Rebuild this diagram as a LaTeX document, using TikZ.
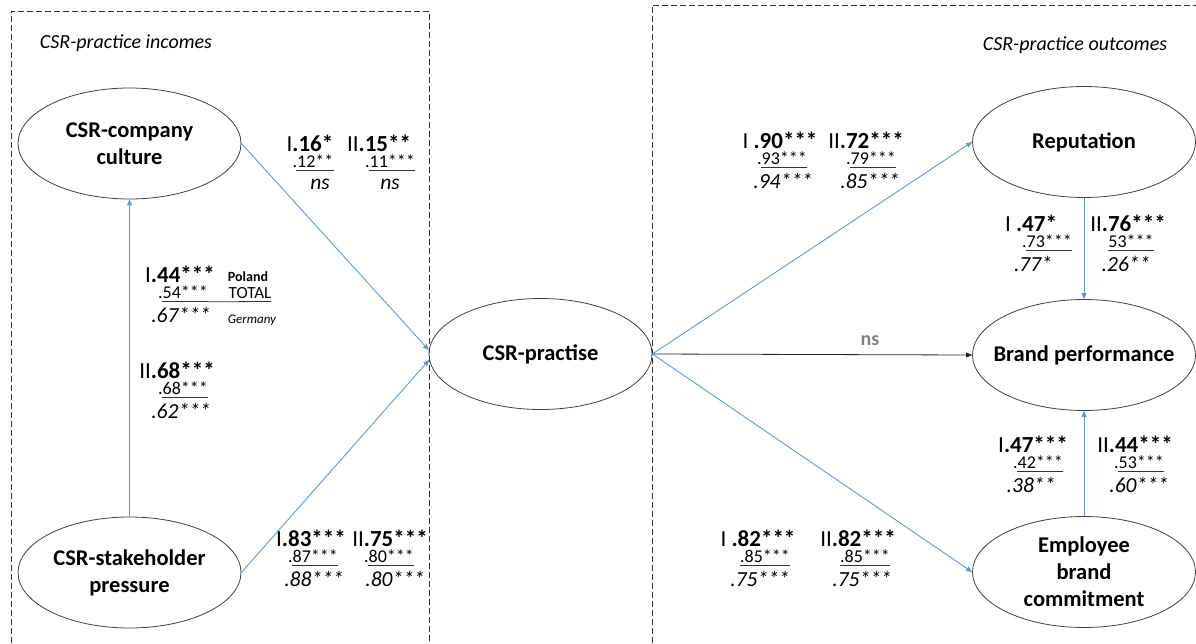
\documentclass[tikz,border=0pt]{standalone}
\usepackage{fontspec}
\setmainfont{Carlito}
\usetikzlibrary{shapes.geometric,arrows.meta}
\definecolor{pathblue}{RGB}{91,155,213}
\definecolor{nsgray}{RGB}{128,128,128}
\tikzset{
  construct/.style={ellipse, draw=black!75, line width=0.8pt, minimum width=223pt, minimum height=111pt,
    inner sep=-80pt, align=center, font=\fontsize{22.5}{27}\selectfont\bfseries},
  bluearrow/.style={draw=pathblue, line width=0.9pt, -{Triangle[length=6pt,width=5pt]}},
  blackarrow/.style={draw=black!85, line width=0.8pt, -{Triangle[length=6pt,width=5pt]}},
  frame/.style={draw=black!80, dash pattern=on 6pt off 3pt, line width=0.9pt},
  sA/.style={inner sep=0pt, font=\fontsize{23}{26}\selectfont\bfseries},
  sB/.style={inner sep=0pt, font=\fontsize{18}{20}\selectfont},
  sC/.style={inner sep=0pt, font=\fontsize{21.5}{24}\selectfont\itshape},
  ul/.style={draw=black!80, line width=0.8pt},
  heading/.style={inner sep=0pt, font=\fontsize{20}{23}\selectfont\itshape},
}
\newcommand\statblock[9]{%
  \node[sA] (#1a) at (#2,#3) {#4};
  \node[sB] (#1b) at (#5,#3+18.5) {#6};
  \node[sC] (#1c) at (#7,#3+41) {#8};
  \draw[ul] ([shift={(#9,3)}]#1b.base west) -- ([shift={(0,3)}]#1b.base east);
}
\begin{document}
\begin{tikzpicture}[x=1pt,y=-1pt]
\useasboundingbox (0,0) rectangle (1196,643);

% frames
\draw[frame] (11,643) -- (11,11) -- (429,11) -- (429,643);
\draw[frame] (652,643) -- (652,5) -- (1200,5);
\node[heading] (hin) at (126,43) {CSR-practice incomes};
\node[heading] (hout) at (1075,45) {CSR-practice outcomes};

% constructs
\node[construct] (culture) at (129.5,143.5) {CSR-company\\culture};
\node[construct] (stake) at (129.5,572.5) {CSR-stakeholder\\pressure};
\node[construct] (practise) at (540.5,354) {CSR-practise};
\node[construct] (rep) at (1084,142) {Reputation};
\node[construct] (brand) at (1084,355) {Brand performance};
\node[construct] (emp) at (1084,572) {Employee\\brand\\commitment};

% paths
\draw[bluearrow] (stake.north) -- (culture.south);
\draw[bluearrow] (culture.east) -- (practise.178);
\draw[bluearrow] (stake.east) -- (practise.183);
\draw[bluearrow] (practise.east) -- (rep.west);
\draw[blackarrow] (practise.east) -- (brand.west);
\draw[bluearrow] (practise.east) -- (emp.west);
\draw[bluearrow] (rep.south) -- (brand.north);
\draw[bluearrow] (emp.north) -- (brand.south);

\node[inner sep=0pt, text=nsgray, font=\fontsize{20}{24}\selectfont\bfseries] (ns) at (870,341) {ns};

% coefficients
\statblock{a}{310}{143}{{\mdseries I}.16*}{313}{.12**}{320}{ns}{4}
\statblock{b}{379}{143}{{\mdseries II}.15**}{390}{.11***}{390}{ns}{4}
\statblock{c}{180}{274}{{\mdseries I}.44***}{183}{.54***}{181}{.67***}{4}
\node[inner sep=0pt, font=\fontsize{14}{16}\selectfont\bfseries] (poland) at (248,277) {Poland};
\node[inner sep=0pt, font=\fontsize{17}{19}\selectfont] (total) at (250,293) {TOTAL};
\node[inner sep=0pt, font=\fontsize{13}{15}\selectfont\itshape] (germany) at (252,320) {Germany};
\draw[ul] ([shift={(0,3)}]cb.base east) -- ([shift={(0,3)}]total.base east);
\statblock{d}{177}{370}{{\mdseries II}.68***}{183}{.68***}{181}{.62***}{4}
\statblock{e}{311}{538}{{\mdseries I}.83***}{313}{.87***}{314}{.88***}{4}
\statblock{f}{390}{538}{{\mdseries II}.75***}{389}{.80***}{395}{.80***}{4}
\statblock{g}{780}{140}{{\mdseries I} .90***}{782}{.93***}{783}{.94***}{4}
\statblock{h}{866}{140}{{\mdseries II}.72***}{871}{.79***}{870}{.85***}{4}
\statblock{i}{1031}{223}{{\mdseries I} .47*}{1047}{.73***}{1033}{.77*}{4}
\statblock{j}{1128}{223}{{\mdseries II}.76***}{1131}{53***}{1126}{.26**}{0}
\statblock{k}{1033}{444}{{\mdseries I}.47***}{1038}{.42***}{1031}{.38**}{4}
\statblock{l}{1135}{444}{{\mdseries II}.44***}{1139}{.53***}{1139}{.60***}{4}
\statblock{m}{758}{538}{{\mdseries I} .82***}{765}{.85***}{760}{.75***}{0}
\statblock{n}{858}{538}{{\mdseries II}.82***}{865}{.85***}{862}{.75***}{0}
\end{tikzpicture}
\end{document}
